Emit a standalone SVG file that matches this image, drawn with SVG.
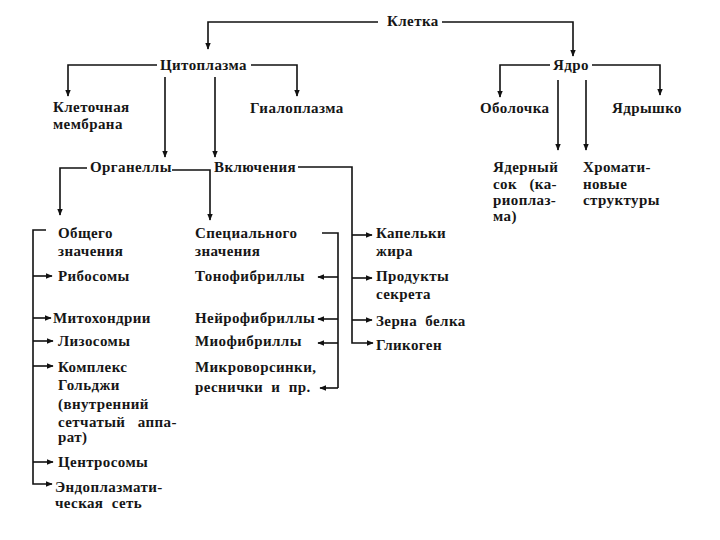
<svg xmlns="http://www.w3.org/2000/svg" width="720" height="540" viewBox="0 0 720 540">
<defs>
<marker id="ah" viewBox="0 0 10 10" refX="9" refY="5" markerWidth="7" markerHeight="7" markerUnits="userSpaceOnUse" orient="auto">
<path d="M0 1 L10 5 L0 9 Z" fill="#111"/>
</marker>
<style>
text{font-family:"Liberation Serif","DejaVu Serif",serif;font-weight:bold;font-size:15px;fill:#161616;letter-spacing:0.4px;white-space:pre}
.c path,.c line{fill:none;stroke:#111;stroke-width:1.6}
.a{marker-end:url(#ah)}
</style>
</defs>
<rect width="720" height="540" fill="#fff"/>
<g class="c" id="connectors">
<path class="a" d="M378 22 H208 V49"/>
<path class="a" d="M442 22 H573 V56"/>
<path class="a" d="M157 65 H68 V96"/>
<path class="a" d="M251 65 H297 V96"/>
<path class="a" d="M165 77 V157"/>
<path class="a" d="M215 77 V157"/>
<path class="a" d="M550 65 H500 V97"/>
<path class="a" d="M592 65 H660 V95"/>
<path class="a" d="M558 80 V150"/>
<path class="a" d="M586 80 V150"/>
<path class="a" d="M87 168 H60 V215"/>
<path class="a" d="M172 170 H210 V220"/>
<path class="a" d="M298 167 H352 V343 H373"/>
<path class="a" d="M352 235 H372"/>
<path class="a" d="M352 278 H372"/>
<path class="a" d="M352 320 H372"/>
<path d="M322 233 H338 V388"/>
<path class="a" d="M338 277 H318"/>
<path class="a" d="M338 319 H318"/>
<path class="a" d="M338 343 H318"/>
<path class="a" d="M338 388 H320"/>
<path class="a" d="M46 230 H33 V484 H52"/>
<path class="a" d="M33 276 H52"/>
<path class="a" d="M33 318 H51"/>
<path class="a" d="M33 341 H53"/>
<path class="a" d="M33 366 H53"/>
<path class="a" d="M33 462 H53"/>
</g>
<g id="kletka"><text x="387" y="26">Клетка</text></g>
<g id="citoplazma"><text x="160" y="70">Цитоплазма</text></g>
<g id="yadro"><text x="553" y="70">Ядро</text></g>
<g id="membrana"><text x="53" y="112">Клеточная</text><text x="53" y="129">мембрана</text></g>
<g id="gialoplazma"><text x="250" y="113">Гиалоплазма</text></g>
<g id="obolochka"><text x="480" y="113">Оболочка</text></g>
<g id="yadryshko"><text x="612" y="113">Ядрышко</text></g>
<g id="organelly"><text x="90" y="172">Органеллы</text></g>
<g id="vklyucheniya"><text x="214" y="172">Включения</text></g>
<g id="yadernyi-sok"><text x="493" y="172">Ядерный</text><text x="493" y="189" xml:space="preserve">сок   (ка-</text><text x="493" y="205">риоплаз-</text><text x="493" y="221">ма)</text></g>
<g id="hromatin"><text x="583" y="172">Хромати-</text><text x="583" y="189">новые</text><text x="583" y="205">структуры</text></g>
<g id="obshchego"><text x="58" y="238">Общего</text><text x="58" y="256">значения</text></g>
<g id="specialnogo"><text x="195" y="238">Специального</text><text x="195" y="256">значения</text></g>
<g id="kapelki"><text x="376" y="238">Капельки</text><text x="376" y="256">жира</text></g>
<g id="ribosomy"><text x="58" y="281">Рибосомы</text></g>
<g id="tonofibrilly"><text x="195" y="281">Тонофибриллы</text></g>
<g id="produkty"><text x="376" y="281">Продукты</text><text x="376" y="299">секрета</text></g>
<g id="mitohondrii"><text x="53" y="323">Митохондрии</text></g>
<g id="neirofibrilly"><text x="195" y="323">Нейрофибриллы</text></g>
<g id="zerna"><text x="376" y="326" xml:space="preserve">Зерна  белка</text></g>
<g id="lizosomy"><text x="58" y="346">Лизосомы</text></g>
<g id="miofibrilly"><text x="195" y="346">Миофибриллы</text></g>
<g id="glikogen"><text x="376" y="350">Гликоген</text></g>
<g id="golgi"><text x="58" y="372">Комплекс</text><text x="58" y="390">Гольджи</text><text x="58" y="409">(внутренний</text><text x="58" y="427" xml:space="preserve">сетчатый   аппа-</text><text x="58" y="442">рат)</text></g>
<g id="mikrovorsinki"><text x="195" y="372">Микроворсинки,</text><text x="195" y="392" xml:space="preserve">реснички  и  пр.</text></g>
<g id="centrosomy"><text x="58" y="467">Центросомы</text></g>
<g id="endoplazm"><text x="55" y="492">Эндоплазмати-</text><text x="55" y="508" xml:space="preserve">ческая  сеть</text></g>
</svg>
